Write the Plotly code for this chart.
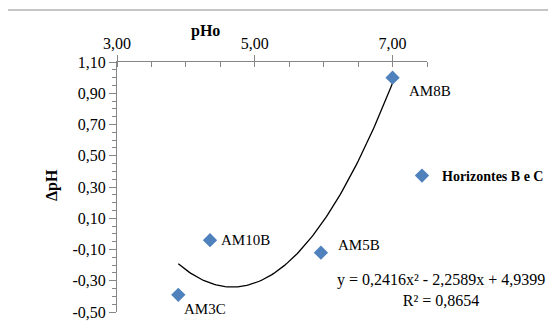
import plotly.graph_objects as go
import numpy as np

# Data
samples = ["AM8B", "AM10B", "AM3C", "AM5B"]
pHo = [7.00, 4.35, 3.89, 5.96]
delta_pH = [1.00, -0.04, -0.39, -0.12]
# Trendline (polynomial, order 2) coefficients as printed on the chart
trend_coefs = [0.2416, -2.2589, 4.9399]
series_name = "Horizontes B e C"
equation_text = "y = 0,2416x² - 2,2589x + 4,9399<br>R² = 0,8654"
x_tickvals = [3, 5, 7]
x_ticktext = ["3,00", "5,00", "7,00"]
y_tickvals = [-0.5, -0.3, -0.1, 0.1, 0.3, 0.5, 0.7, 0.9, 1.1]
y_ticktext = ["-0,50", "-0,30", "-0,10", "0,10", "0,30", "0,50", "0,70", "0,90", "1,10"]

FONT = "Liberation Serif"
AXIS_COLOR = "#868686"

# page body has an 8px default margin; reference pixel -> paper coords
def px(X):
    return (X - 117) / 310

def py(Y):
    return (312 - Y) / 250

xs = np.linspace(min(pHo), max(pHo), 120)
ys = np.polyval(trend_coefs, xs)

fig = go.Figure()
fig.add_trace(go.Scatter(
    x=xs, y=ys, mode="lines", line=dict(color="black", width=1.3),
    showlegend=False, hoverinfo="skip"))
fig.add_trace(go.Scatter(
    x=pHo, y=delta_pH, mode="markers", name=series_name,
    marker=dict(symbol="diamond", size=11, color="#4F81BD")))

label_pos = {
    "AM8B": (14, -13),
    "AM10B": (9, 0),
    "AM3C": (4, -14),
    "AM5B": (15, 8),
}
for s, x, y in zip(samples, pHo, delta_pH):
    dx, dy = label_pos[s]
    fig.add_annotation(x=x, y=y, xref="x", yref="y", text=s, showarrow=False,
                       xanchor="left", yanchor="middle", xshift=dx, yshift=dy,
                       font=dict(family=FONT, size=15, color="black"))

fig.add_annotation(x=px(441), y=py(290), xref="paper", yref="paper",
                   text=equation_text, showarrow=False, xanchor="center", yanchor="middle",
                   align="center", font=dict(family=FONT, size=16, color="black"))

# axis titles
fig.add_annotation(x=px(205), y=py(31), xref="paper", yref="paper", text="<b>pHo</b>",
                   showarrow=False, xanchor="center", yanchor="middle",
                   font=dict(family=FONT, size=16, color="black"))
fig.add_annotation(x=px(52), y=py(185), xref="paper", yref="paper", text="<b>ΔpH</b>",
                   showarrow=False, xanchor="center", yanchor="middle", textangle=-90,
                   font=dict(family=FONT, size=16, color="black"))

# outer chart border
fig.add_shape(type="rect", xref="paper", yref="paper",
              x0=px(7), x1=1.6, y0=-0.3, y1=py(10),
              line=dict(color="#8c8c8c", width=1.2), fillcolor="rgba(0,0,0,0)", layer="below")

fig.update_layout(
    width=556, height=335,
    margin=dict(l=109, r=137, t=54, b=31),
    paper_bgcolor="white", plot_bgcolor="white",
    font=dict(family=FONT, size=16, color="black"),
    showlegend=True,
    legend=dict(x=px(402), y=py(176), xanchor="left", yanchor="middle",
                font=dict(family=FONT, size=14, color="black", weight="bold"),
                bgcolor="rgba(0,0,0,0)", itemwidth=30, tracegroupgap=0),
    xaxis=dict(
        side="top", range=[3, 7.5], tickmode="array", tickvals=x_tickvals, ticktext=x_ticktext,
        showgrid=False, zeroline=False, showline=True, linecolor=AXIS_COLOR, linewidth=1,
        ticks="outside", ticklen=6, tickcolor=AXIS_COLOR,
        minor=dict(dtick=0.5, tick0=3, ticks="inside", ticklen=5, tickcolor=AXIS_COLOR, showgrid=False),
        tickfont=dict(family=FONT, size=16),
    ),
    yaxis=dict(
        range=[-0.5, 1.1], tickmode="array", tickvals=y_tickvals, ticktext=y_ticktext,
        showgrid=False, zeroline=False, showline=True, linecolor=AXIS_COLOR, linewidth=1,
        ticks="outside", ticklen=7, tickcolor=AXIS_COLOR,
        minor=dict(dtick=0.05, tick0=-0.5, ticks="outside", ticklen=4, tickcolor=AXIS_COLOR, showgrid=False),
        tickfont=dict(family=FONT, size=16),
    ),
)

fig.write_html("out.html")
